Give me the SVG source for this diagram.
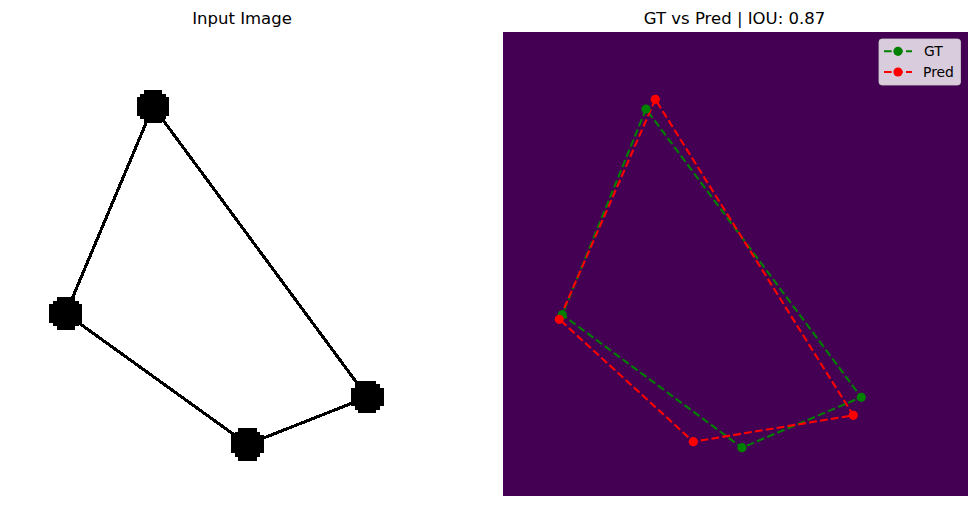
<svg xmlns="http://www.w3.org/2000/svg" width="976" height="506" viewBox="0 0 976 506">
<style>
.title{font-family:"DejaVu Sans",sans-serif;font-size:16.5px;fill:#000;text-anchor:middle}
.leg{font-family:"DejaVu Sans",sans-serif;font-size:13.9px;fill:#000}
.pix{fill:none;stroke:#000;stroke-width:0.85;shape-rendering:crispEdges;stroke-linecap:square}
.gt{fill:none;stroke:#008000;stroke-width:2.1;stroke-dasharray:7.7 3.3}
.pr{fill:none;stroke:#ff0000;stroke-width:2.1;stroke-dasharray:7.7 3.3}
</style>
<defs>
<path id="blob" d="M2,0 h5 v1 h1 v1 h1 v5 h-1 v1 h-1 v1 h-5 v-1 h-1 v-1 h-1 v-5 h1 v-1 h1 z" fill="#000" shape-rendering="crispEdges"/>
</defs>
<rect width="976" height="506" fill="#fff"/>
<g id="left-panel">
<text class="title" x="242" y="24">Input Image</text>
<g transform="translate(9.5,32) scale(3.633)">
<g id="left-edges">
<polygon class="pix" points="39.5,20.5 15.5,77.5 65.5,113.5 98.5,100.5"/>
</g>
<g id="left-v1"><use href="#blob" x="35" y="16"/></g>
<g id="left-v2"><use href="#blob" x="11" y="73"/></g>
<g id="left-v3"><use href="#blob" x="61" y="109"/></g>
<g id="left-v4"><use href="#blob" x="94" y="96"/></g>
</g>
</g>
<g id="right-panel">
<text class="title" x="734.5" y="24">GT vs Pred | IOU: 0.87</text>
<rect x="503" y="32" width="465" height="464" fill="#440154"/>
<g id="connectors">
<polygon class="gt" points="646,109 562.3,314.7 742,447.7 861.3,397.3"/>
<polygon class="pr" points="655.3,99.3 559.3,319.3 693.3,441.7 853.3,415.3"/>
</g>
<g id="gt-points" fill="#008000">
<circle cx="646" cy="109" r="4.6"/>
<circle cx="562.3" cy="314.7" r="4.6"/>
<circle cx="742" cy="447.7" r="4.6"/>
<circle cx="861.3" cy="397.3" r="4.6"/>
</g>
<g id="pred-points" fill="#ff0000">
<circle cx="655.3" cy="99.3" r="4.6"/>
<circle cx="559.3" cy="319.3" r="4.6"/>
<circle cx="693.3" cy="441.7" r="4.6"/>
<circle cx="853.3" cy="415.3" r="4.6"/>
</g>
<g id="legend">
<rect x="879" y="39" width="81.5" height="46" rx="3" fill="#fff" fill-opacity="0.8" stroke="#ccc" stroke-opacity="0.8"/>
<line class="gt" x1="884" y1="51.3" x2="912" y2="51.3"/>
<circle cx="898" cy="51.3" r="4.6" fill="#008000"/>
<text class="leg" x="924" y="56.3">GT</text>
<line class="pr" x1="884" y1="72" x2="912" y2="72"/>
<circle cx="898" cy="72" r="4.6" fill="#ff0000"/>
<text class="leg" x="923" y="77">Pred</text>
</g>
</g>
</svg>
